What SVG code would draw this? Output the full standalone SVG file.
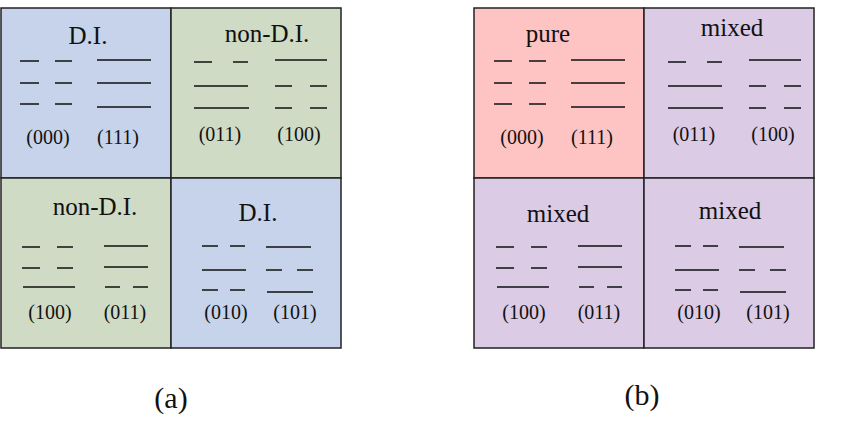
<svg xmlns="http://www.w3.org/2000/svg" width="848" height="432" viewBox="0 0 848 432">
<style>
.c{stroke:#222;stroke-width:1.5}
.l{stroke:#111;stroke-width:1.6}
.t{font-family:"Liberation Serif",serif;fill:#111;text-anchor:middle}
.h{font-size:25px}
.s{font-size:20px}
.cap{font-size:30px}
.b{fill:#c6d3ea}.g{fill:#cfdbc5}.p{fill:#fec4c4}.m{fill:#dbcbe5}
</style>
<g id="panelA">
<g id="a-tl"><rect class="c b" x="1" y="8" width="170" height="170"/>
<text class="t h" x="88" y="44">D.I.</text>
<path class="l" d="M20 61H39M55 61H72M20 83H39M55 83H72M20 104H39M55 104H72M97 60H151M97 83H151M97 107H151"/>
<text class="t s" x="48" y="144">(000)</text><text class="t s" x="118" y="144">(111)</text></g>
<g id="a-tr"><rect class="c g" x="171" y="8" width="170" height="170"/>
<text class="t h" x="267" y="42">non-D.I.</text>
<path class="l" d="M194 62H212M233 62H248M194 86H248M194 108H249M275 60H327M275 86H292M310 86H327M275 108H292M310 108H327"/>
<text class="t s" x="220" y="141">(011)</text><text class="t s" x="299" y="141">(100)</text></g>
<g id="a-bl"><rect class="c g" x="1" y="178" width="170" height="170"/>
<text class="t h" x="95" y="215">non-D.I.</text>
<path class="l" d="M22 247H40M57 247H73M22 268H40M57 268H73M23 287H75M104 246H148M104 267H148M105 287H120M133 287H148"/>
<text class="t s" x="50" y="319">(100)</text><text class="t s" x="125" y="319">(011)</text></g>
<g id="a-br"><rect class="c b" x="171" y="178" width="170" height="170"/>
<text class="t h" x="258" y="221">D.I.</text>
<path class="l" d="M202 246H218M230 246H245M202 270H246M202 290H218M230 290H245M266 247H311M266 270H282M297 270H313M267 292H313"/>
<text class="t s" x="226" y="319">(010)</text><text class="t s" x="295" y="319">(101)</text></g>
<text class="t cap" x="171" y="408">(a)</text>
</g>
<g id="panelB">
<g id="b-tl"><rect class="c p" x="474" y="8" width="170" height="170"/>
<text class="t h" x="548" y="42">pure</text>
<path class="l" d="M494 61H512M529 61H546M494 83H512M529 83H546M494 104H512M529 104H546M571 60H625M571 83H625M571 107H625"/>
<text class="t s" x="522" y="144">(000)</text><text class="t s" x="592" y="144">(111)</text></g>
<g id="b-tr"><rect class="c m" x="644" y="8" width="170" height="170"/>
<text class="t h" x="732" y="36">mixed</text>
<path class="l" d="M668 62H686M707 62H722M668 86H722M668 108H723M749 60H801M749 86H766M784 86H801M749 108H766M784 108H801"/>
<text class="t s" x="694" y="141">(011)</text><text class="t s" x="773" y="141">(100)</text></g>
<g id="b-bl"><rect class="c m" x="474" y="178" width="170" height="170"/>
<text class="t h" x="558" y="222">mixed</text>
<path class="l" d="M496 247H514M531 247H547M496 268H514M531 268H547M497 287H549M578 246H622M578 267H622M579 287H594M607 287H622"/>
<text class="t s" x="524" y="319">(100)</text><text class="t s" x="599" y="319">(011)</text></g>
<g id="b-br"><rect class="c m" x="644" y="178" width="170" height="170"/>
<text class="t h" x="730" y="219">mixed</text>
<path class="l" d="M675 246H691M703 246H718M675 270H719M675 290H691M703 290H718M739 247H784M739 270H755M770 270H786M740 292H786"/>
<text class="t s" x="699" y="319">(010)</text><text class="t s" x="768" y="319">(101)</text></g>
<text class="t cap" x="642" y="405">(b)</text>
</g>
<g id="connectors"/>
</svg>
